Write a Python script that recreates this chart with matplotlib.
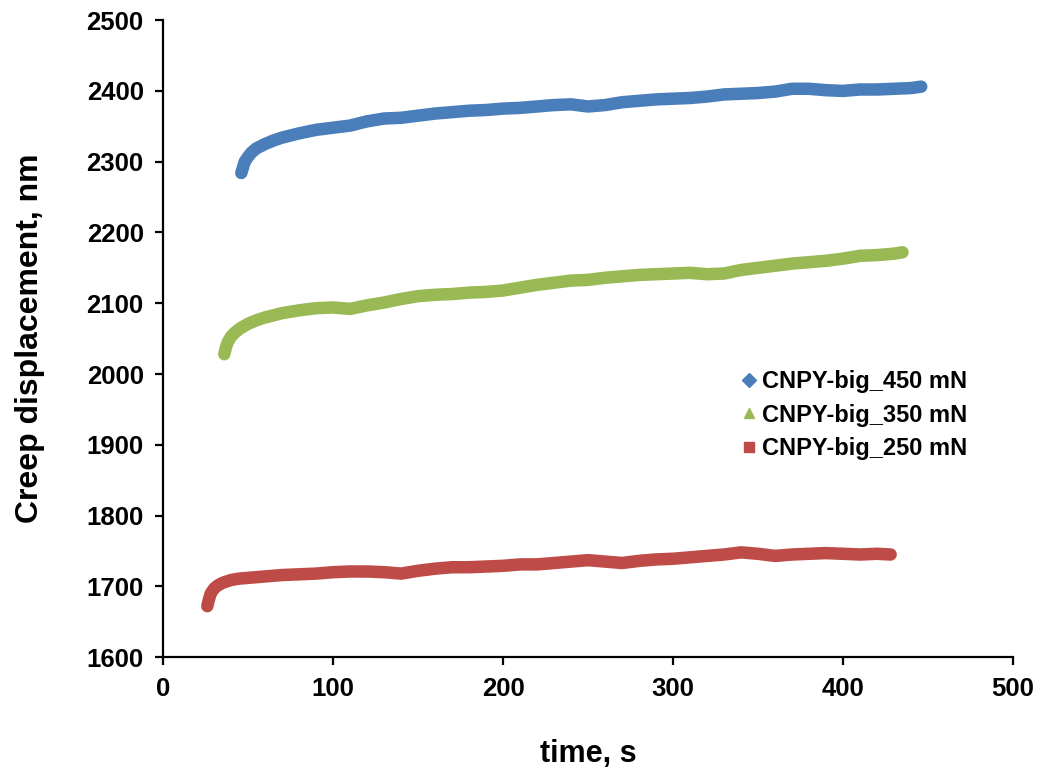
import matplotlib
matplotlib.use("Agg")
import matplotlib.pyplot as plt
from matplotlib.lines import Line2D

# creep curves (time in s, displacement in nm)
t_450 = [46, 47, 48, 50, 52, 55, 60, 65, 70, 80, 90, 100, 110, 120, 130, 140, 150, 160,
         170, 180, 190, 200, 210, 220, 230, 240, 250, 260, 270, 280, 290, 300, 310, 320,
         330, 340, 350, 360, 370, 380, 390, 400, 410, 420, 430, 440, 446]
d_450 = [2284, 2292, 2300, 2307, 2313, 2319, 2325, 2330, 2334, 2340, 2345, 2348, 2351,
         2357, 2361, 2362, 2365, 2368, 2370, 2372, 2373, 2375, 2376, 2378, 2380, 2381,
         2378, 2380, 2384, 2386, 2388, 2389, 2390, 2392, 2395, 2396, 2397, 2399, 2403,
         2403, 2401, 2400, 2402, 2402, 2403, 2404, 2406]

t_350 = [36, 37, 38, 40, 42, 45, 50, 55, 60, 70, 80, 90, 100, 110, 120, 130, 140, 150,
         160, 170, 180, 190, 200, 210, 220, 230, 240, 250, 260, 270, 280, 290, 300, 310,
         320, 330, 340, 350, 360, 370, 380, 390, 400, 410, 420, 430, 435]
d_350 = [2028, 2038, 2045, 2053, 2058, 2064, 2071, 2076, 2080, 2086, 2090, 2093, 2094,
         2092, 2097, 2101, 2106, 2110, 2112, 2113, 2115, 2116, 2118, 2122, 2126, 2129,
         2132, 2133, 2136, 2138, 2140, 2141, 2142, 2143, 2141, 2142, 2147, 2150, 2153,
         2156, 2158, 2160, 2163, 2167, 2168, 2170, 2172]

t_250 = [26, 27, 28, 30, 32, 35, 40, 45, 50, 60, 70, 80, 90, 100, 110, 120, 130, 140,
         150, 160, 170, 180, 190, 200, 210, 220, 230, 240, 250, 260, 270, 280, 290, 300,
         310, 320, 330, 340, 350, 360, 370, 380, 390, 400, 410, 420, 428]
d_250 = [1672, 1682, 1690, 1697, 1701, 1705, 1709, 1711, 1712, 1714, 1716, 1717, 1718,
         1720, 1721, 1721, 1720, 1718, 1722, 1725, 1727, 1727, 1728, 1729, 1731, 1731,
         1733, 1735, 1737, 1735, 1733, 1736, 1738, 1739, 1741, 1743, 1745, 1748, 1746,
         1743, 1745, 1746, 1747, 1746, 1745, 1746, 1745]

labels = ["CNPY-big_450 mN", "CNPY-big_350 mN", "CNPY-big_250 mN"]
colors = ["#4a7ebb", "#98b954", "#be4b48"]
markers = ["D", "^", "s"]

plt.rcParams["font.family"] = ["Liberation Sans", "DejaVu Sans"]
plt.rcParams["font.weight"] = "bold"

fig = plt.figure(figsize=(10.39, 7.74), dpi=100)
ax = fig.add_axes([0.157, 0.151, 0.818, 0.823])

series = [(t_450, d_450), (t_350, d_350), (t_250, d_250)]
for (t, d), c in zip(series, colors):
    # dense overlapping markers in the original read as one thick band
    ax.plot(t, d, color=c, lw=9, solid_capstyle="round", solid_joinstyle="round")

ax.set_xlim(0, 500)
ax.set_ylim(1600, 2500)
ax.set_xticks(range(0, 501, 100))
ax.set_yticks(range(1600, 2501, 100))

for s in ["top", "right"]:
    ax.spines[s].set_visible(False)
for s in ["left", "bottom"]:
    ax.spines[s].set_linewidth(1.6)
ax.tick_params(direction="out", length=6, width=1.6, labelsize=18.5, pad=8)
for lab in ax.get_xticklabels() + ax.get_yticklabels():
    lab.set_fontweight("bold")

ax.set_xlabel("time, s", fontsize=22, fontweight="bold", labelpad=28)
ax.set_ylabel("Creep displacement, nm", fontsize=23, fontweight="bold", labelpad=30)

handles = [Line2D([], [], color=c, marker=m, linestyle="none", markersize=7)
           for c, m in zip(colors, markers)]
ax.legend(handles, labels, loc="center left", bbox_to_anchor=(0.67, 0.38),
          frameon=False, prop={"weight": "bold", "size": 17},
          handlelength=0.6, handletextpad=0.25, labelspacing=0.45, borderaxespad=0)

plt.savefig("out.png", dpi=100)
